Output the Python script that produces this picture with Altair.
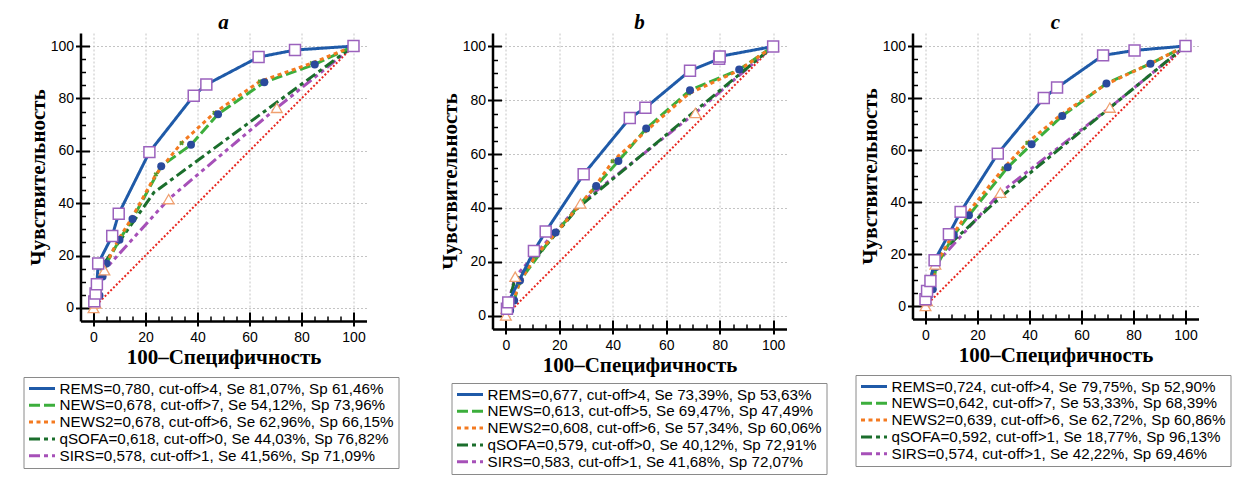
import altair as alt
import pandas as pd

# ---------------- data ----------------
SERIES = ["REMS", "NEWS", "NEWS2", "qSOFA", "SIRS"]
DRAW_ORDER = ["SIRS", "qSOFA", "NEWS", "NEWS2", "REMS"]
COLORS = ["#1f5aa8", "#3cae3c", "#f47a20", "#1b6e2c", "#a650b8"]
DASHES = [[1, 0], [11, 4], [4, 3.5], [11, 4, 4, 4], [11, 4, 4, 4, 4, 4]]
DIAG_X = [0, 100]
DIAG_Y = [0, 100]

LABELS_A = [
    "REMS=0,780, cut-off>4, Se 81,07%, Sp 61,46%",
    "NEWS=0,678, cut-off>7, Se 54,12%, Sp 73,96%",
    "NEWS2=0,678, cut-off>6, Se 62,96%, Sp 66,15%",
    "qSOFA=0,618, cut-off>0, Se 44,03%, Sp 76,82%",
    "SIRS=0,578, cut-off>1, Se 41,56%, Sp 71,09%",
]
LABELS_B = [
    "REMS=0,677, cut-off>4, Se 73,39%, Sp 53,63%",
    "NEWS=0,613, cut-off>5, Se 69,47%, Sp 47,49%",
    "NEWS2=0,608, cut-off>6, Se 57,34%, Sp 60,06%",
    "qSOFA=0,579, cut-off>0, Se 40,12%, Sp 72,91%",
    "SIRS=0,583, cut-off>1, Se 41,68%, Sp 72,07%",
]
LABELS_C = [
    "REMS=0,724, cut-off>4, Se 79,75%, Sp 52,90%",
    "NEWS=0,642, cut-off>7, Se 53,33%, Sp 68,39%",
    "NEWS2=0,639, cut-off>6, Se 62,72%, Sp 60,86%",
    "qSOFA=0,592, cut-off>1, Se 18,77%, Sp 96,13%",
    "SIRS=0,574, cut-off>1, Se 42,22%, Sp 69,46%",
]

# panel a
A_REMS_X = [0, 0.3, 0.8, 1.3, 1.8, 7.2, 9.7, 21.5, 38.54, 43.4, 63.5, 77.5, 100]
A_REMS_Y = [0, 2.5, 5.5, 9, 17, 27.5, 36, 59.5, 81.07, 85.3, 95.8, 98.5, 100]
A_NEWS_X = [0, 1, 2.3, 3.5, 5, 10, 15, 26.04, 37.5, 47.9, 65.7, 85.1, 100]
A_NEWS_Y = [0, 2, 4.7, 12, 17, 26, 34, 54.12, 62.3, 74, 86.2, 93, 100]
A_NEWS2_X = [0, 0.8, 2, 4.5, 9.5, 14.5, 24, 33.85, 46.5, 64, 84, 100]
A_NEWS2_Y = [0, 2, 6, 16, 26, 34, 51, 62.96, 74.5, 86.5, 93.5, 100]
A_QSOFA_X = [0, 0.5, 3, 23.18, 100]
A_QSOFA_Y = [0, 2.5, 15.5, 44.03, 100]
A_SIRS_X = [0, 0.8, 4.2, 28.91, 70.5, 100]
A_SIRS_Y = [0, 1.7, 14.4, 41.56, 76.4, 100]

# panel b
B_REMS_X = [0, 0.4, 0.9, 10.5, 14.9, 29.1, 46.37, 52.2, 68.9, 79.8, 80, 100]
B_REMS_Y = [0, 2.5, 4.9, 24, 31.2, 52.5, 73.39, 77.2, 91, 95.4, 96.3, 100]
B_NEWS_X = [0, 1.6, 3.1, 5.3, 18.6, 33.8, 42.1, 52.51, 68.9, 87.3, 100]
B_NEWS_Y = [0, 1.9, 5.6, 13, 30.9, 48.1, 57.4, 69.47, 83.7, 91.4, 100]
B_NEWS2_X = [0, 1.5, 3, 5, 11, 19, 33, 39.94, 53, 68.5, 87, 100]
B_NEWS2_Y = [0, 2, 6, 12, 22, 31, 47.5, 57.34, 69, 82.5, 91, 100]
B_QSOFA_X = [0, 0.5, 3, 27.09, 100]
B_QSOFA_Y = [0, 2.5, 12, 40.12, 100]
B_SIRS_X = [0, 0.2, 3.5, 27.93, 70.9, 100]
B_SIRS_Y = [0, 2.5, 14.4, 41.68, 75.3, 100]

# panel c
C_REMS_X = [0, 0, 0.6, 1.9, 3.5, 9, 13.5, 27.8, 45.5, 50.6, 68.3, 80.4, 100]
C_REMS_Y = [0, 2.6, 5.8, 9.6, 17.6, 27.6, 36.2, 58.6, 80, 84, 96.4, 98.3, 100]
C_NEWS_X = [0, 1.3, 2.8, 4, 10.9, 16.7, 31.61, 40.8, 52.6, 69.6, 86.5, 100]
C_NEWS_Y = [0, 3.8, 6.4, 15, 27.3, 34.9, 53.33, 62.2, 73.1, 85.6, 93.2, 100]
C_NEWS2_X = [0, 1, 2.5, 4, 10.5, 16, 30, 39.14, 52, 69, 86, 100]
C_NEWS2_Y = [0, 3, 7, 16, 27.5, 35.5, 53, 62.72, 73.5, 85, 93, 100]
C_QSOFA_X = [0, 0.5, 3.87, 29, 100]
C_QSOFA_Y = [0, 3, 18.77, 42, 100]
C_SIRS_X = [0, 0.6, 3.8, 28.8, 70.9, 100]
C_SIRS_Y = [0, 1.9, 16, 43.6, 76.3, 100]

PANEL_DATA = {
    "a": {"REMS": (A_REMS_X, A_REMS_Y), "NEWS": (A_NEWS_X, A_NEWS_Y), "NEWS2": (A_NEWS2_X, A_NEWS2_Y),
          "qSOFA": (A_QSOFA_X, A_QSOFA_Y), "SIRS": (A_SIRS_X, A_SIRS_Y)},
    "b": {"REMS": (B_REMS_X, B_REMS_Y), "NEWS": (B_NEWS_X, B_NEWS_Y), "NEWS2": (B_NEWS2_X, B_NEWS2_Y),
          "qSOFA": (B_QSOFA_X, B_QSOFA_Y), "SIRS": (B_SIRS_X, B_SIRS_Y)},
    "c": {"REMS": (C_REMS_X, C_REMS_Y), "NEWS": (C_NEWS_X, C_NEWS_Y), "NEWS2": (C_NEWS2_X, C_NEWS2_Y),
          "qSOFA": (C_QSOFA_X, C_QSOFA_Y), "SIRS": (C_SIRS_X, C_SIRS_Y)},
}
PANEL_LABELS = {"a": LABELS_A, "b": LABELS_B, "c": LABELS_C}

MAJOR = [0, 20, 40, 60, 80, 100]
MINOR = list(range(0, 101, 5))

SANS = "Liberation Sans"
SERIF = "Liberation Serif"


def panel_df(name):
    rows = []
    labels = PANEL_LABELS[name]
    for s in DRAW_ORDER:
        xs, ys = PANEL_DATA[name][s]
        for i, (x, y) in enumerate(zip(xs, ys)):
            rows.append({"series": s, "label": labels[SERIES.index(s)], "i": i, "x": x, "y": y})
    return pd.DataFrame(rows)


def make_panel(name, W, H, lx, ly):
    df = panel_df(name)
    labels = PANEL_LABELS[name]
    xs = alt.Scale(domain=[-5, 105], nice=False, zero=False)
    ys = alt.Scale(domain=[-5, 105], nice=False, zero=False)

    common_out = dict(values=MAJOR, tickSize=5, tickWidth=2, tickColor="black",
                      domainColor="black", domainWidth=2.5,
                      labelFont=SANS, labelFontSize=14, labelColor="black",
                      grid=True, gridColor="#c4c4c4", gridDash=[2, 2], gridWidth=1,
                      titleFont=SERIF, titleFontSize=21, titleFontWeight="bold", titleColor="black")
    x_out = alt.Axis(orient="bottom", labelPadding=4, titlePadding=2, **common_out)
    y_out = alt.Axis(orient="left", labelPadding=2, titlePadding=2, **common_out)

    tsize = {"condition": {"test": "datum.value % 20 === 0", "value": 9}, "value": 5}
    twidth = {"condition": {"test": "datum.value % 20 === 0", "value": 2}, "value": 1.5}
    x_in = alt.Axis(orient="top", offset=-H, values=MINOR, tickSize=tsize, tickWidth=twidth,
                    tickColor="black", labels=False, domain=False, grid=False)
    y_in = alt.Axis(orient="right", offset=-W, values=MINOR, tickSize=tsize, tickWidth=twidth,
                    tickColor="black", labels=False, domain=False, grid=False)

    leg = alt.Legend(title=None, orient="none", legendX=lx, legendY=ly, direction="vertical",
                     columns=1, symbolType="stroke", symbolSize=676, symbolStrokeWidth=3,
                     symbolOffset=0, clipHeight=15,
                     labelFont=SANS, labelFontSize=15.2, labelColor="black", labelLimit=600,
                     strokeColor="#8a8a8a", fillColor="white", padding=4, rowPadding=0.8,
                     labelOffset=3)

    base = alt.Chart(df)
    diag = alt.Chart(pd.DataFrame({"x": DIAG_X, "y": DIAG_Y})).mark_line(
        color="#e8261f", strokeWidth=2, strokeDash=[2, 2]
    ).encode(
        x=alt.X("x:Q", scale=xs, axis=x_in, title=None),
        y=alt.Y("y:Q", scale=ys, axis=y_in, title=None),
    )
    lines = base.mark_line(strokeWidth=3).encode(
        x=alt.X("x:Q", scale=xs, axis=x_out, title="100–Специфичность"),
        y=alt.Y("y:Q", scale=ys, axis=y_out, title="Чувствительность"),
        color=alt.Color("label:N", scale=alt.Scale(domain=labels, range=COLORS), legend=leg),
        strokeDash=alt.StrokeDash("label:N", scale=alt.Scale(domain=labels, range=DASHES), legend=leg),
        order=alt.Order("i:Q"),
    )
    enc = dict(x=alt.X("x:Q", scale=xs, axis=None), y=alt.Y("y:Q", scale=ys, axis=None))
    crosses = base.transform_filter("datum.series == 'NEWS2' && datum.i > 0").mark_point(
        shape="cross", angle=45, size=22, filled=True, color="#5a9a2c", opacity=1).encode(**enc)
    circles = base.transform_filter("datum.series == 'NEWS' && datum.i > 0").mark_circle(
        size=64, color="#2a4a9c", opacity=1).encode(**enc)
    tris = base.transform_filter("datum.series == 'SIRS'").mark_point(
        shape="triangle-up", size=115, filled=True, fill="white", stroke="#f0a070",
        strokeWidth=1.3, opacity=1).encode(**enc)
    squares = base.transform_filter("datum.series == 'REMS' && datum.i > 0").mark_point(
        shape="square", size=120, filled=True, fill="white", stroke="#9b62bd",
        strokeWidth=1.5, opacity=1).encode(**enc)

    return alt.layer(diag, lines, crosses, circles, tris, squares).resolve_axis(
        x="independent", y="independent"
    ).properties(
        width=W, height=H,
        title=alt.TitleParams(text=name, font=SERIF, fontSize=21, fontWeight="bold",
                              fontStyle="italic", color="black", anchor="middle", offset=0),
    )


pa = make_panel("a", 286, 288, -57, 344)
pb = make_panel("b", 294, 296, -41, 350)
pc = make_panel("c", 286, 286, -57, 342)

chart = alt.hconcat(pa, pb, pc, spacing=126, bounds="flush").resolve_scale(
    x="independent", y="independent", color="independent", strokeDash="independent"
).properties(
    padding={"left": 14.5, "top": 4, "right": 0, "bottom": 0},
    background="white",
).configure_view(stroke=None)

chart.save("out.html", embed_options={"renderer": "svg", "actions": False})
